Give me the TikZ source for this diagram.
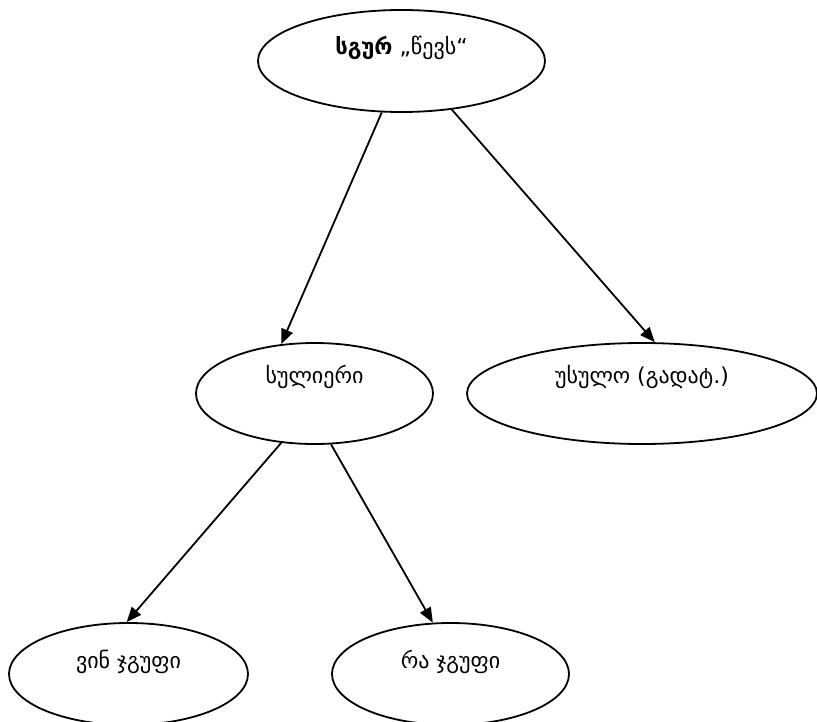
\documentclass[tikz,border=0pt]{standalone}
\usepackage{fontspec}
\newfontfamily\geofont{DejaVu Sans}
\usetikzlibrary{shapes.geometric,arrows.meta}
\begin{document}
\begin{tikzpicture}[x=1pt,y=-1pt,
  oval/.style={draw,ellipse,line width=1.8pt,inner sep=0pt},
  lbl/.style={font=\geofont\fontsize{22}{26}\selectfont,inner sep=0pt},
  arr/.style={line width=1.8pt,-{Triangle[length=15pt,width=12pt]}}]
\useasboundingbox (0,0) rectangle (817,722);
% ellipses
\node[oval,minimum width=287pt,minimum height=102pt] (root) at (401.5,61) {};
\node[oval,minimum width=237pt,minimum height=101pt] (anim) at (314.5,393.5) {};
\node[oval,minimum width=350pt,minimum height=101pt] (inan) at (642,393.5) {};
\node[oval,minimum width=239pt,minimum height=102pt] (who) at (128.5,674) {};
\node[oval,minimum width=237pt,minimum height=102pt] (what) at (450.5,674) {};
% labels
\node[lbl] (rootl) at ([yshift=13pt]root.center) {{\bfseries სგურ} „წევს“};
\node[lbl] (animl) at ([yshift=17pt]anim.center) {სულიერი};
\node[lbl] (inanl) at ([yshift=17pt]inan.center) {უსულო (გადატ.)};
\node[lbl] (whol) at ([yshift=12pt]who.center) {ვინ ჯგუფი};
\node[lbl] (whatl) at ([yshift=12pt]what.center) {რა ჯგუფი};
% connectors
\draw[arr] (root.249.6) -- (anim.124);
\draw[arr] (root.316) -- (inan.76.6);
\draw[arr] (anim.236) -- (who.92);
\draw[arr] (anim.288.6) -- (what.109);
\end{tikzpicture}
\end{document}
